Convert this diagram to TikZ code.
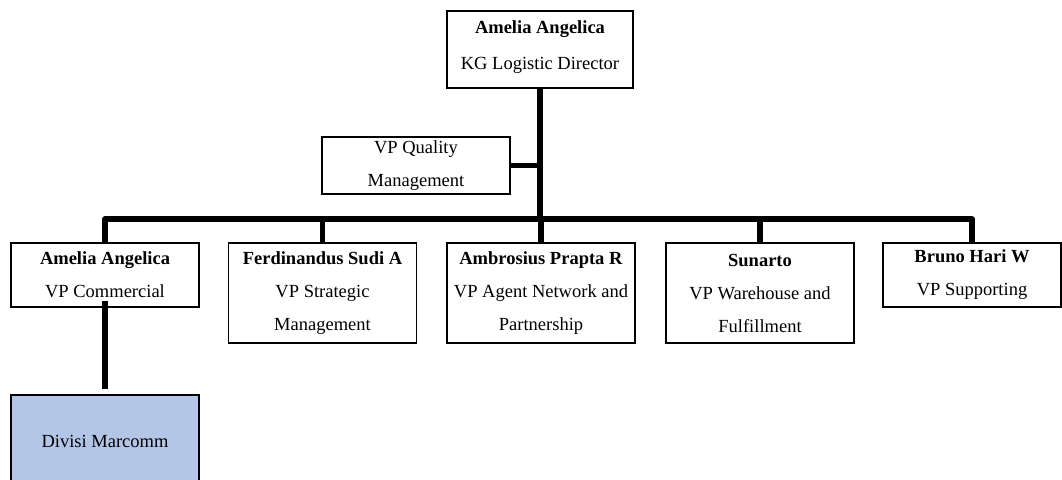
\documentclass[tikz,border=0pt]{standalone}
\usepackage{fontspec}
\setmainfont{Liberation Serif}
\usetikzlibrary{calc}

\definecolor{marcomm}{RGB}{180,198,231}

\begin{document}
\begin{tikzpicture}[x=1pt,y=-1pt,
    box/.style={draw,line width=1.5pt,fill=white,inner sep=0pt,align=center,
      minimum width=188pt,font=\fontsize{18.5}{33}\selectfont},
    link/.style={line width=5.5pt,line join=round}]
    \useasboundingbox (0,0) rectangle (1062,479);
    \node[box,minimum width=186pt,minimum height=77pt] (dir) at (540,49.5) {\textbf{Amelia Angelica}\\[3pt]KG Logistic Director\rule[-9pt]{0pt}{0pt}};
    \node[box,minimum height=57pt] (qm) at (416,165.5) {VP Quality\\Management};
    \node[box,minimum height=64pt] (b1) at (105,275) {\textbf{Amelia Angelica}\\VP Commercial};
    \node[box,minimum height=100pt] (b2) at (322.5,293) {\textbf{Ferdinandus Sudi A}\\VP Strategic\\Management};
    \node[box,minimum height=100pt] (b3) at (541,293) {\textbf{Ambrosius Prapta R}\\VP Agent Network and\\Partnership};
    \node[box,minimum height=100pt] (b4) at (760,293) {\textbf{Sunarto}\\VP Warehouse and\\Fulfillment};
    \node[box,minimum width=178pt,minimum height=64pt] (b5) at (972,275) {\textbf{Bruno Hari W}\\VP Supporting};
    \node[box,fill=marcomm,minimum height=92pt] (mc) at (105,441) {Divisi Marcomm};
    \coordinate (bar) at (540,219);
    \draw [link] (dir.south) -- (bar);
    \draw [link] (qm.east) -- (qm.east -| bar);
    \draw [link] (b1.north) |- (bar) -| (b5.north);
    \draw [link] (b2.north) -- (b2.north |- bar);
    \draw [link] (b3.north) -- (b3.north |- bar);
    \draw [link] (b4.north) -- (b4.north |- bar);
    \draw [link] ([yshift=7pt]b1.south) -- ([yshift=5pt]mc.north);
\end{tikzpicture}
\end{document}
